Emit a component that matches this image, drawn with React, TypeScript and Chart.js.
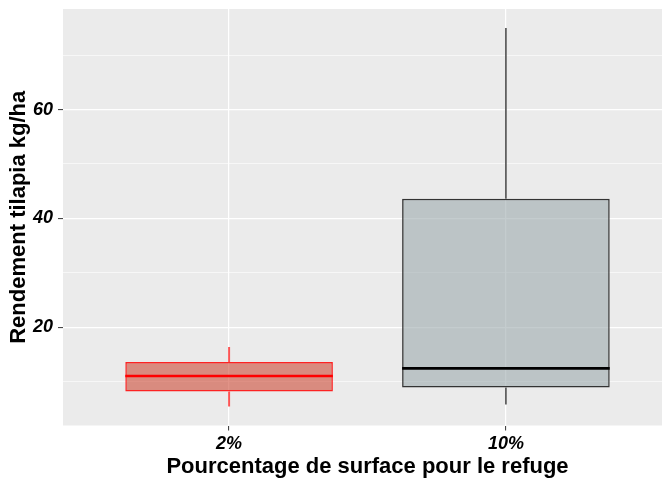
import React, { useEffect, useRef } from 'react';
import { Chart, registerables } from 'chart.js';

Chart.register(...registerables);

// ---- data ----
const categories = ['2%', '10%'];
const whiskerLow = [5.45, 5.82];
const q1 = [8.2, 8.94];
const median = [11.08, 12.48];
const q3 = [13.65, 43.61];
const whiskerHigh = [16.4, 74.99];
const yGridValues = [10, 20, 30, 40, 50, 60, 70];
const yLabelValues = [20, 40, 60];

// ---- styles ----
const fillColors = ['rgba(205,75,55,0.6)', 'rgba(157,170,173,0.6)'];
const borderColors = ['rgba(255,0,0,0.85)', '#333333'];
const medianColors = ['#ff0000', '#000000'];
const medianWidths = [2.5, 2.8];
const whiskerColors = ['rgba(255,0,0,0.65)', '#444444'];
const whiskerWidths = [2, 1.5];
const FONT = "'Liberation Sans', Arial, sans-serif";
const panelOverflowRight = 10; // the original panel is cropped at the right edge

const lo = Math.min(...whiskerLow);
const hi = Math.max(...whiskerHigh);
const yMin = lo - 0.05 * (hi - lo);
const yMax = hi + 0.05 * (hi - lo);

const extendPanel = {
  id: 'extendPanel',
  afterLayout(chart: any) {
    const xs = chart.scales.x;
    xs.right = xs.right + panelOverflowRight;
    xs.width = xs.right - xs.left;
    xs.configure();
    chart.chartArea.right = xs.right;
    chart.chartArea.width = chart.chartArea.right - chart.chartArea.left;
  },
};

const panelPlugin = {
  id: 'panelBg',
  beforeDraw(chart: any) {
    const { ctx, chartArea: a } = chart;
    ctx.save();
    ctx.fillStyle = '#EBEBEB';
    ctx.fillRect(a.left, a.top, a.right - a.left, a.bottom - a.top);
    ctx.restore();
  },
};

const boxExtras = {
  id: 'boxExtras',
  afterDatasetsDraw(chart: any) {
    const { ctx } = chart;
    const ys = chart.scales.y;
    const meta = chart.getDatasetMeta(0);
    ctx.save();
    meta.data.forEach((bar: any, i: number) => {
      const { x, width } = bar.getProps(['x', 'width'], true);
      ctx.strokeStyle = whiskerColors[i];
      ctx.lineWidth = whiskerWidths[i];
      ctx.beginPath();
      ctx.moveTo(x, ys.getPixelForValue(q3[i]));
      ctx.lineTo(x, ys.getPixelForValue(whiskerHigh[i]));
      ctx.moveTo(x, ys.getPixelForValue(q1[i]));
      ctx.lineTo(x, ys.getPixelForValue(whiskerLow[i]));
      ctx.stroke();
      const ym = ys.getPixelForValue(median[i]);
      ctx.strokeStyle = medianColors[i];
      ctx.lineWidth = medianWidths[i];
      ctx.beginPath();
      ctx.moveTo(x - width / 2, ym);
      ctx.lineTo(x + width / 2, ym);
      ctx.stroke();
    });
    ctx.restore();
  },
};

export default function App() {
  const ref = useRef<HTMLCanvasElement | null>(null);
  useEffect(() => {
    if (!ref.current) return;
    const chart = new Chart(ref.current, {
      type: 'bar',
      data: {
        datasets: [
          {
            data: categories.map((_, i) => ({ x: i + 1, y: [q1[i], q3[i]] })) as any,
            backgroundColor: fillColors,
            borderColor: borderColors,
            borderWidth: 1.5,
            borderSkipped: false,
            categoryPercentage: 1,
            barPercentage: 0.75,
          } as any,
        ],
      },
      options: {
        animation: false,
        responsive: false,
        events: [],
        layout: { padding: { top: 9, left: 0, right: 0, bottom: 0 } },
        plugins: { legend: { display: false }, tooltip: { enabled: false }, title: { display: false } },
        scales: {
          x: {
            type: 'linear',
            offset: false,
            min: 0.4,
            max: 2.6,
            afterBuildTicks: (s: any) => {
              s.ticks = categories.map((_, i) => ({ value: i + 1 }));
            },
            afterFit: (s: any) => {
              s.height = 55.5;
              s.paddingLeft = 0;
              s.paddingRight = 0;
            },
            border: { display: false },
            grid: { offset: false, color: '#FFFFFF', lineWidth: 1.2, tickColor: '#333333', tickLength: 5, tickWidth: 1 },
            ticks: {
              padding: 3,
              color: '#000000',
              font: { family: FONT, size: 18, weight: 'bold', style: 'italic' },
              callback: (v: any) => categories[Math.round(Number(v)) - 1] ?? '',
            },
            title: {
              display: true,
              text: 'Pourcentage de surface pour le refuge',
              color: '#000000',
              font: { family: FONT, size: 22, weight: 'bold' },
              padding: { top: 0, bottom: 1 },
            },
          } as any,
          y: {
            type: 'linear',
            min: yMin,
            max: yMax,
            afterBuildTicks: (s: any) => {
              s.ticks = yGridValues.map((v) => ({ value: v }));
            },
            afterFit: (s: any) => {
              s.width = 63;
              s.paddingTop = 0;
              s.paddingBottom = 0;
            },
            border: { display: false },
            grid: {
              color: '#FFFFFF',
              lineWidth: (c: any) => (yLabelValues.includes(c.tick?.value) ? 1.2 : 0.6),
              tickColor: (c: any) => (yLabelValues.includes(c.tick?.value) ? '#333333' : 'rgba(0,0,0,0)'),
              tickLength: 5,
              tickWidth: 1,
            },
            ticks: {
              padding: 5,
              color: '#000000',
              font: { family: FONT, size: 18, weight: 'bold', style: 'italic' },
              callback: (v: any) => (yLabelValues.includes(Number(v)) ? String(v) : ''),
            },
            title: {
              display: true,
              text: 'Rendement tilapia kg/ha',
              color: '#000000',
              font: { family: FONT, size: 22, weight: 'bold' },
              padding: { top: 6, bottom: 0 },
            },
          } as any,
        },
      },
      plugins: [extendPanel, panelPlugin, boxExtras],
    });
    return () => chart.destroy();
  }, []);

  return (
    <div style={{ position: 'fixed', left: 0, top: 0, width: 662, height: 481 }}>
      <canvas ref={ref} width={662} height={481} style={{ display: 'block' }} />
    </div>
  );
}
